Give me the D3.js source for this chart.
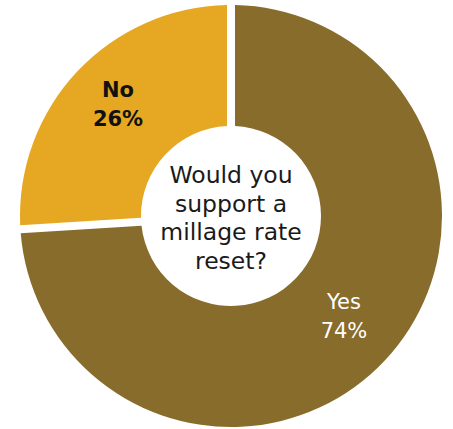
<!DOCTYPE html>
<html>
<head>
<meta charset="utf-8">
<script src="https://cdn.jsdelivr.net/npm/d3@7"></script>
<style>
  body { margin: 0; background: #fff; }
  svg { display: block; }
</style>
</head>
<body>
<div id="chart"></div>
<script>
var categories = ["Yes", "No"];
var values = [74, 26];
var colors = ["#886c2c", "#e6a823"];
var labelColors = ["#ffffff", "#111111"];
var question = ["Would you", "support a", "millage rate", "reset?"];

var width = 453, height = 429;
var cx = 231, cy = 216;
var outerR = 211, innerR = 90;

var svg = d3.select("#chart")
    .append("svg")
    .attr("width", width)
    .attr("height", height);

var g = svg.append("g")
    .attr("transform", `translate(${cx},${cy})`);

var pie = d3.pie().sort(null).value(d => d);
var arcs = pie(values);

var arc = d3.arc()
    .innerRadius(innerR)
    .outerRadius(outerR)
    .padAngle(8 / outerR)
    .padRadius(outerR);

var labelArc = d3.arc().innerRadius(155).outerRadius(155);

g.selectAll(".slice")
    .data(arcs)
    .enter()
    .append("path")
    .attr("class", "slice")
    .attr("d", arc)
    .attr("fill", (d, i) => colors[i]);

// slice labels
var labels = g.selectAll(".label")
    .data(arcs)
    .enter()
    .append("text")
    .attr("class", "label")
    .attr("text-anchor", "middle")
    .attr("font-family", "DejaVu Sans, sans-serif")
    .attr("font-size", 21)
    .attr("font-weight", (d, i) => i === 1 ? "bold" : "normal")
    .attr("fill", (d, i) => labelColors[i])
    .attr("transform", d => `translate(${labelArc.centroid(d)})`);

labels.append("tspan")
    .attr("x", 0)
    .attr("y", -13)
    .text((d, i) => categories[i]);

labels.append("tspan")
    .attr("x", 0)
    .attr("y", 16)
    .text((d, i) => values[i] + "%");

// center question
g.append("text")
    .attr("text-anchor", "middle")
    .attr("font-family", "DejaVu Sans, sans-serif")
    .attr("font-size", 23.5)
    .attr("fill", "#1a1a1a")
    .selectAll("tspan")
    .data(question)
    .enter()
    .append("tspan")
    .attr("x", 0)
    .attr("y", (d, i) => -33 + i * 28.5)
    .text(d => d);
</script>
</body>
</html>
